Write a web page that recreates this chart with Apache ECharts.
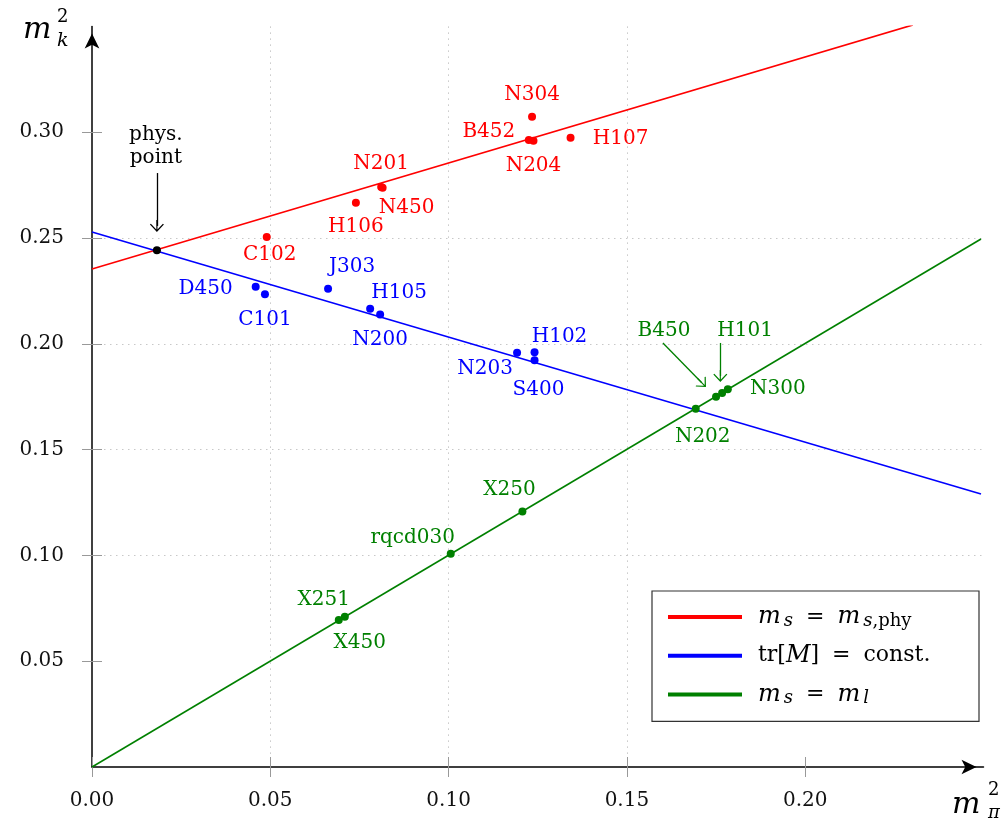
<!DOCTYPE html>
<html><head><meta charset="utf-8">
<script src="https://cdn.jsdelivr.net/npm/echarts@6/dist/echarts.min.js"></script>
<style>html,body{margin:0;padding:0;background:#fff}#c{width:1006px;height:823px}</style>
</head><body><div id="c"></div>
<script>
// ---- data ----
const xTickValues = [0, 0.05, 0.10, 0.15, 0.20];
const yTickValues = [0.05, 0.10, 0.15, 0.20, 0.25, 0.30];

const redNames = ['C102', 'H106', 'N201', 'N450', 'N304', 'B452', 'N204', 'H107'];
const redX     = [0.0490, 0.0740, 0.0811, 0.0815, 0.1234, 0.1225, 0.1238, 0.1342];
const redY     = [0.2505, 0.2667, 0.2741, 0.2738, 0.3073, 0.2963, 0.2960, 0.2974];

const blueNames = ['D450', 'C101', 'J303', 'H105', 'N200', 'N203', 'H102', 'S400'];
const blueX     = [0.0459, 0.0485, 0.0662, 0.0780, 0.0808, 0.1192, 0.1241, 0.1241];
const blueY     = [0.2270, 0.2234, 0.2260, 0.2166, 0.2139, 0.1958, 0.1960, 0.1922];

const greenNames = ['X450', 'X251', 'rqcd030', 'X250', 'N202', 'B450', 'H101', 'N300'];
const greenX     = [0.0692, 0.0709, 0.1006, 0.1207, 0.1693, 0.1750, 0.1767, 0.1783];
const greenY     = [0.0695, 0.0710, 0.1008, 0.1207, 0.1693, 0.1750, 0.1767, 0.1785];

const physX = [0.0182];
const physY = [0.2442];

// fitted lines (end points)
const redLineX   = [0, 0.2302];
const redLineY   = [0.2353, 0.3507];
const blueLineX  = [0, 0.2493];
const blueLineY  = [0.2528, 0.1290];
const greenLineX = [0, 0.2493];
const greenLineY = [0, 0.2495];

// annotation arrows [start, end] in data units
const physArrow = [[0.0182, 0.2807], [0.0182, 0.2557]];
const b450Arrow = [[0.1601, 0.2004], [0.1710, 0.1816]];
const h101Arrow = [[0.1762, 0.2004], [0.1762, 0.1848]];

const legendNames = ['m_s = m_s,phy', 'tr[M] = const.', 'm_s = m_l'];

// ---- layout / style ----
const labelOffset = {
  C102: [3, 18], H106: [0, 24], N201: [0, -23], N450: [24, 20], N304: [0, -22],
  B452: [-40, -8], N204: [0, 25], H107: [50, 1],
  D450: [-50, 2], C101: [0, 26], J303: [24, -22], H105: [29, -16], N200: [0, 25],
  N203: [-32, 16], H102: [25, -15], S400: [4, 29],
  X450: [21, 23], X251: [-21, -17], rqcd030: [-38, -16], X250: [-13, -22],
  N202: [7, 28], B450: [-52, -66], H101: [23, -62], N300: [50, 0]
};
const RED = '#ff0000', BLUE = '#0000ff', GREEN = '#008000';
const FONT = 'DejaVu Serif';

function pts(names, xs, ys) {
  return names.map((n, i) => ({
    name: n, value: [xs[i], ys[i]],
    label: { offset: labelOffset[n] || [0, 0] }
  }));
}
function line(xs, ys) { return xs.map((x, i) => [x, ys[i]]); }

const arrowPath = 'path://M50,0 L100,62 L93,68 L54,20 L54,100 L46,100 L46,20 L7,68 L0,62 Z';

function scatter(name, data, color) {
  return {
    type: 'scatter', name: name, data: data, symbolSize: 8, z: 5,
    itemStyle: { color: color, opacity: 1 },
    label: {
      show: true, position: 'inside', formatter: '{b}', color: color,
      fontFamily: FONT, fontSize: 20, align: 'center', verticalAlign: 'middle'
    },
    emphasis: { disabled: true }
  };
}
function markArrows(arrs, color) {
  return {
    silent: true, animation: false,
    symbol: ['none', arrowPath], symbolSize: [14, 12],
    label: { show: false },
    lineStyle: { color: color, width: 1.3, type: 'solid', opacity: 1 },
    itemStyle: { color: color, opacity: 1 },
    emphasis: { disabled: true },
    data: arrs.map(a => [{ coord: a[0] }, { coord: a[1] }])
  };
}

const legendRich = {
  'm_s = m_s,phy': '{p|}{i|m}{s|s}{e|=}{i|m}{s|s}{sr|,phy}',
  'tr[M] = const.': '{p|}{r|tr[}{i|M}{r|]}{e|=}{r|const.}',
  'm_s = m_l': '{p|}{i|m}{s|s}{e|=}{i|m}{s|l}'
};

const axisCommon = {
  type: 'value', min: 0, interval: 0.05,
  axisLine: { show: true, onZero: false, lineStyle: { color: '#000', width: 1.5 } },
  splitLine: { show: true, showMinLine: false, showMaxLine: false,
    lineStyle: { color: '#c8c8c8', width: 1, type: [1.5, 4.5] } },
  axisLabel: { color: '#111', fontFamily: FONT, fontSize: 20, formatter: v => v.toFixed(2) }
};

const option = {
  animation: false,
  backgroundColor: '#fff',
  grid: { left: 92, right: 22.5, top: 26.4, bottom: 56, containLabel: false, outerBoundsMode: 'none' },
  xAxis: [
    Object.assign({}, axisCommon, {
      max: 0.25, position: 'bottom',
      axisLine: { show: true, onZero: false, lineStyle: { color: '#000', width: 1.5 },
        symbol: ['none', 'arrow'], symbolSize: [11, 15], symbolOffset: [0, -7] },
      axisTick: { show: true, length: 10, customValues: xTickValues, lineStyle: { color: '#999', width: 1 } },
      axisLabel: Object.assign({}, axisCommon.axisLabel, { margin: 24, customValues: xTickValues })
    }),
    {
      type: 'value', min: 0, max: 0.25, interval: 0.05, position: 'bottom',
      axisLine: { show: false, onZero: false },
      axisTick: { show: true, inside: true, length: 10, customValues: xTickValues, lineStyle: { color: '#999', width: 1 } },
      axisLabel: { show: false }, splitLine: { show: false }
    }
  ],
  yAxis: [
    Object.assign({}, axisCommon, {
      max: 0.35, position: 'left',
      axisLine: { show: true, onZero: false, lineStyle: { color: '#000', width: 1.5 },
        symbol: ['none', 'arrow'], symbolSize: [11, 15], symbolOffset: [0, -7] },
      axisTick: { show: true, length: 10, customValues: yTickValues, lineStyle: { color: '#999', width: 1 } },
      axisLabel: Object.assign({}, axisCommon.axisLabel, { margin: 28, customValues: yTickValues })
    }),
    {
      type: 'value', min: 0, max: 0.35, interval: 0.05, position: 'left',
      axisLine: { show: false, onZero: false },
      axisTick: { show: true, inside: true, length: 10, customValues: yTickValues, lineStyle: { color: '#999', width: 1 } },
      axisLabel: { show: false }, splitLine: { show: false }
    }
  ],
  legend: {
    data: legendNames, orient: 'vertical', left: 652, top: 591,
    padding: [13, 12, 14, 16], itemGap: 12.7,
    itemWidth: 74, itemHeight: 4, icon: 'rect',
    backgroundColor: '#fff', borderColor: '#333', borderWidth: 1.2, borderRadius: 0,
    selectedMode: false,
    formatter: n => legendRich[n],
    textStyle: {
      width: 220, lineHeight: 26, fontFamily: FONT, fontSize: 22, color: '#000',
      rich: {
        p: { width: 11 },
        i: { fontFamily: FONT, fontStyle: 'italic', fontSize: 24, lineHeight: 26, color: '#000' },
        r: { fontFamily: FONT, fontSize: 22, lineHeight: 26, color: '#000' },
        e: { fontFamily: FONT, fontSize: 22, lineHeight: 26, color: '#000', padding: [0, 13, 0, 13] },
        s: { fontFamily: FONT, fontStyle: 'italic', fontSize: 18, lineHeight: 12, verticalAlign: 'bottom', color: '#000', padding: [0, 0, 0, 3] },
        sr: { fontFamily: FONT, fontSize: 18, lineHeight: 12, verticalAlign: 'bottom', color: '#000' }
      }
    }
  },
  graphic: [
    { type: 'text', x: 23, y: 30, style: { text: 'm', fontFamily: FONT, fontStyle: 'italic', fontSize: 30, fill: '#000', align: 'left', verticalAlign: 'middle', textAlign: 'left', textVerticalAlign: 'middle' } },
    { type: 'text', x: 57, y: 17, style: { text: '2', fontFamily: FONT, fontSize: 18, fill: '#000', align: 'left', verticalAlign: 'middle', textAlign: 'left', textVerticalAlign: 'middle' } },
    { type: 'text', x: 57, y: 41, style: { text: 'k', fontFamily: FONT, fontStyle: 'italic', fontSize: 19, fill: '#000', align: 'left', verticalAlign: 'middle', textAlign: 'left', textVerticalAlign: 'middle' } },
    { type: 'text', x: 952, y: 805, style: { text: 'm', fontFamily: FONT, fontStyle: 'italic', fontSize: 30, fill: '#000', align: 'left', verticalAlign: 'middle', textAlign: 'left', textVerticalAlign: 'middle' } },
    { type: 'text', x: 988, y: 790, style: { text: '2', fontFamily: FONT, fontSize: 18, fill: '#000', align: 'left', verticalAlign: 'middle', textAlign: 'left', textVerticalAlign: 'middle' } },
    { type: 'text', x: 988, y: 813, style: { text: 'π', fontFamily: FONT, fontStyle: 'italic', fontSize: 18, fill: '#000', align: 'left', verticalAlign: 'middle', textAlign: 'left', textVerticalAlign: 'middle' } }
  ],
  series: [
    { type: 'line', name: legendNames[0], data: line(redLineX, redLineY), symbol: 'none', color: RED, lineStyle: { width: 1.6, color: RED }, z: 3, silent: true },
    { type: 'line', name: legendNames[1], data: line(blueLineX, blueLineY), symbol: 'none', color: BLUE, lineStyle: { width: 1.6, color: BLUE }, z: 3, silent: true },
    { type: 'line', name: legendNames[2], data: line(greenLineX, greenLineY), symbol: 'none', color: GREEN, lineStyle: { width: 1.6, color: GREEN }, z: 3, silent: true },
    scatter('redPts', pts(redNames, redX, redY), RED),
    scatter('bluePts', pts(blueNames, blueX, blueY), BLUE),
    Object.assign(scatter('greenPts', pts(greenNames, greenX, greenY), GREEN), { markLine: markArrows([b450Arrow, h101Arrow], GREEN) }),
    Object.assign(scatter('phys', [{ name: 'phys.\npoint', value: [physX[0], physY[0]], label: { offset: [-1, -104], lineHeight: 23, color: '#000' } }], '#000'),
      { markLine: markArrows([physArrow], '#000') })
  ]
};
const chart = echarts.init(document.getElementById('c'), null, { renderer: 'canvas' });
chart.setOption(option);
</script></body></html>
